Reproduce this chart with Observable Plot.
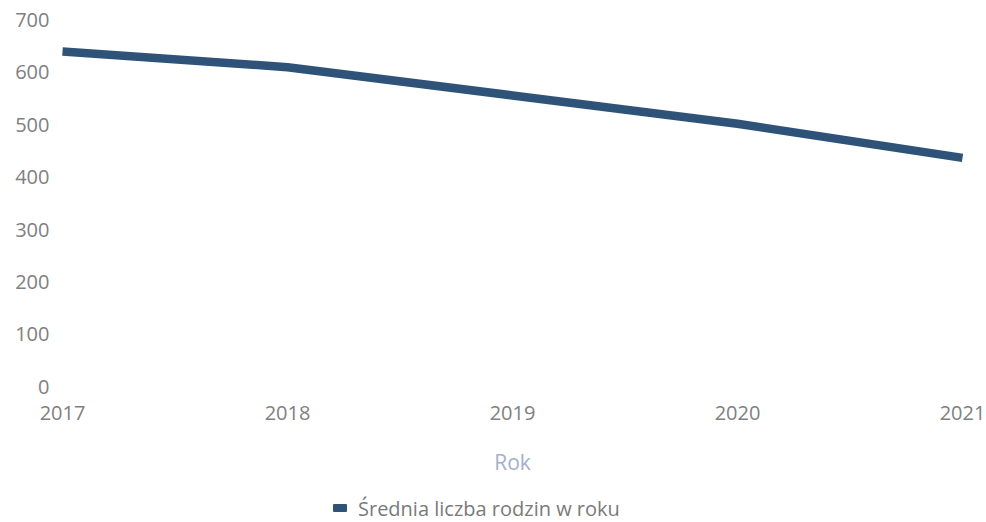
<!DOCTYPE html>
<html>
<head>
<meta charset="utf-8">
<script src="https://cdn.jsdelivr.net/npm/d3@7"></script>
<script src="https://cdn.jsdelivr.net/npm/@observablehq/plot@0.6"></script>
<style>
  body { margin: 0; background: #fff; font-family: "Open Sans", sans-serif; }
  #legend { height: 56px; display: flex; align-items: center; padding-left: 333px; font-size: 20px; color: #7a7a7a; }
  #legend .sw { width: 14px; height: 8px; background: #2f5378; margin-right: 11px; border-radius: 1px; }
</style>
</head>
<body>
<div id="chart"></div>
<div id="legend"><span class="sw"></span><span>Średnia liczba rodzin w roku</span></div>
<script>
const years = [2017, 2018, 2019, 2020, 2021];
const values = [641, 611, 557, 503, 438];
const yTicks = [0, 100, 200, 300, 400, 500, 600, 700];
const seriesName = "Średnia liczba rodzin w roku";
const xLabel = "Rok";

const data = years.map((y, i) => ({year: y, value: values[i]}));

const chart = Plot.plot({
  width: 986,
  height: 480,
  marginTop: 20,
  marginBottom: 93,
  marginLeft: 62,
  marginRight: 24,
  style: {fontFamily: "Open Sans, sans-serif", fontSize: "20px", color: "#808080", background: "#fff"},
  x: {domain: [2017, 2021], ticks: years, tickFormat: d => String(d), label: null},
  y: {domain: [0, 700], ticks: yTicks, label: null},
  marks: [
    Plot.axisY({ticks: yTicks, tickSize: 0, tickPadding: 13, fontSize: 20, fill: "#808080", label: null}),
    Plot.axisX({ticks: years, tickSize: 0, tickPadding: 18, fontSize: 20, fill: "#808080", tickFormat: d => String(d), label: null}),
    Plot.line(data, {x: "year", y: "value", stroke: "#2f5378", strokeWidth: 8.5, strokeLinecap: "butt", strokeLinejoin: "round"}),
    Plot.text([xLabel], {frameAnchor: "bottom", dy: 82, text: d => d, fill: "#a3afca", fontSize: 21})
  ]
});
document.getElementById("chart").appendChild(chart);
</script>
</body>
</html>
